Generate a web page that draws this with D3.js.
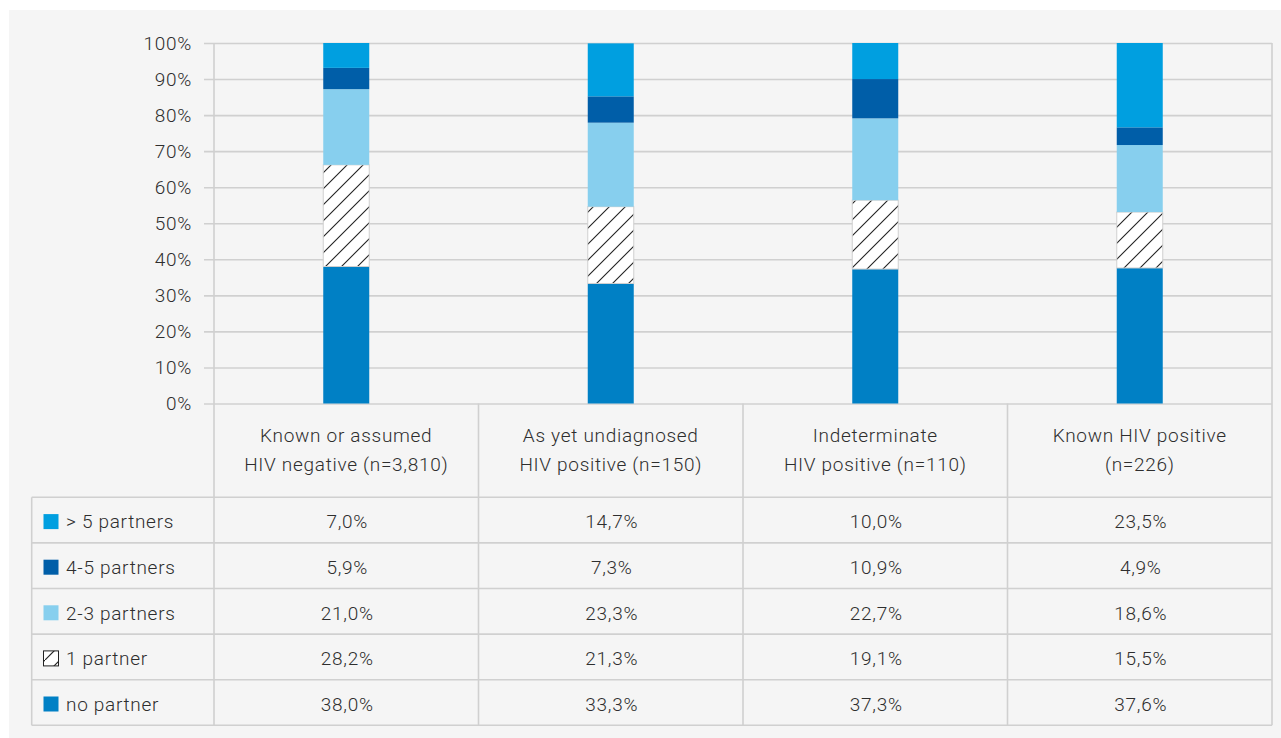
<!DOCTYPE html>
<html>
<head>
<meta charset="utf-8">
<script src="https://cdn.jsdelivr.net/npm/d3@7"></script>
<style>
html,body{margin:0;padding:0;background:#fff;}
svg{display:block;}
text{font-family:Roboto, "Open Sans", sans-serif;font-weight:300;fill:#2e2e2e;letter-spacing:0.7px;}
</style>
</head>
<body>
<svg id="chart" width="1281" height="738"></svg>
<script>
const categories = [
  ["Known or assumed", "HIV negative (n=3,810)"],
  ["As yet undiagnosed", "HIV positive (n=150)"],
  ["Indeterminate", "HIV positive (n=110)"],
  ["Known HIV positive", "(n=226)"]
];
const seriesNames = ["no partner", "1 partner", "2-3 partners", "4-5 partners", "> 5 partners"];
const noPartner   = [38.0, 33.3, 37.3, 37.6];
const onePartner  = [28.2, 21.3, 19.1, 15.5];
const twoThree    = [21.0, 23.3, 22.7, 18.6];
const fourFive    = [5.9, 7.3, 10.9, 4.9];
const moreFive    = [7.0, 14.7, 10.0, 23.5];
const yTicks = [0, 10, 20, 30, 40, 50, 60, 70, 80, 90, 100];

const seriesValues = [noPartner, onePartner, twoThree, fourFive, moreFive];
const colors = ["#0080c5", "hatch", "#87cfee", "#005ea8", "#009fe0"];

(function () {
const svg = d3.select("#chart");
const W = 1281, H = 738;
const FS = 19;

svg.append("rect").attr("x", 9).attr("y", 10).attr("width", W - 9).attr("height", H - 10).attr("fill", "#f5f5f5");

const defs = svg.append("defs");
const pat = defs.append("pattern").attr("id", "hatch").attr("patternUnits", "userSpaceOnUse")
  .attr("width", 16).attr("height", 16);
pat.append("rect").attr("width", 16).attr("height", 16).attr("fill", "#fff");
pat.append("path").attr("d", "M-4,4 L4,-4 M0,16 L16,0 M12,20 L20,12").attr("stroke", "#222").attr("stroke-width", 1.1);
const legPat = defs.append("pattern").attr("id", "hatchLeg").attr("patternUnits", "userSpaceOnUse")
  .attr("width", 15).attr("height", 15);
legPat.append("rect").attr("width", 15).attr("height", 15).attr("fill", "#fff");
legPat.append("path").attr("d", "M0,15 L15,0").attr("stroke", "#222").attr("stroke-width", 1.2);

const pLeft = 214, pRight = 1272, pTop = 43, pBottom = 403.5;
const tableTop = 497.3, rowH = 45.6, legendLeft = 31.7;

const x = d3.scaleBand().domain(d3.range(categories.length)).range([pLeft, pRight]).paddingInner(0).paddingOuter(0);
const y = d3.scaleLinear().domain([0, 100]).range([pBottom, pTop]).clamp(true);

const gridColor = "#d0d0d0";

const yAxis = d3.axisLeft(y).tickValues(yTicks).tickSize(-(pRight - pLeft)).tickSizeOuter(0).tickPadding(22)
  .tickFormat(d => d + "%");
const gy = svg.append("g").attr("transform", `translate(${pLeft},0)`).call(yAxis);
gy.select(".domain").remove();
gy.selectAll(".tick line").attr("stroke", gridColor).attr("stroke-width", 1.6).attr("x1", -10);
gy.selectAll(".tick text").attr("font-size", FS).attr("fill", "#2e2e2e").attr("dy", "0.34em")
  .style("font-family", "Roboto, sans-serif").style("font-weight", 300);

const table = categories.map((c, i) => {
  const o = {i};
  seriesNames.forEach((s, k) => o[s] = seriesValues[k][i]);
  return o;
});
const stack = d3.stack().keys(seriesNames)(table);
const barW = 46;
stack.forEach((layer, k) => {
  svg.append("g").selectAll("rect").data(layer).join("rect")
    .attr("x", d => x(d.data.i) + x.bandwidth() / 2 - barW / 2)
    .attr("width", barW)
    .attr("y", d => y(d[1]))
    .attr("height", d => y(d[0]) - y(d[1]))
    .attr("fill", colors[k] === "hatch" ? "url(#hatch)" : colors[k])
    .attr("stroke", colors[k] === "hatch" ? "#cfcfcf" : "none")
    .attr("stroke-width", 1);
});

const lines = svg.append("g").attr("stroke", gridColor).attr("stroke-width", 1.6).attr("fill", "none");
const bounds = d3.range(categories.length + 1).map(i => i < categories.length ? x(i) : pRight);
bounds.forEach((bx, i) => {
  lines.append("line").attr("x1", bx).attr("x2", bx)
    .attr("y1", (i === 0 || i === bounds.length - 1) ? pTop : pBottom)
    .attr("y2", tableTop + rowH * seriesNames.length);
});
lines.append("line").attr("x1", legendLeft).attr("x2", legendLeft).attr("y1", tableTop).attr("y2", tableTop + rowH * seriesNames.length);
d3.range(seriesNames.length + 1).forEach(r => {
  lines.append("line").attr("x1", legendLeft).attr("x2", pRight)
    .attr("y1", tableTop + r * rowH).attr("y2", tableTop + r * rowH);
});

categories.forEach((c, i) => {
  const cx = x(i) + x.bandwidth() / 2;
  c.forEach((line, j) => {
    svg.append("text").attr("x", cx).attr("y", 435 + j * 29).attr("text-anchor", "middle")
      .attr("dy", "0.36em").attr("font-size", FS).text(line);
  });
});

const rowOrder = seriesNames.map((s, k) => k).reverse();
const fmt = v => v.toFixed(1).replace(".", ",") + "%";
rowOrder.forEach((k, r) => {
  const cy = tableTop + r * rowH + rowH / 2 + 1.5;
  svg.append("rect").attr("x", 43.5).attr("y", cy - 7.5).attr("width", 15).attr("height", 15)
    .attr("fill", colors[k] === "hatch" ? "url(#hatchLeg)" : colors[k])
    .attr("stroke", colors[k] === "hatch" ? "#222" : "none").attr("stroke-width", 1);
  svg.append("text").attr("x", 66).attr("y", cy).attr("dy", "0.36em")
    .attr("font-size", FS).text(seriesNames[k]);
  categories.forEach((c, i) => {
    svg.append("text").attr("x", x(i) + x.bandwidth() / 2 + 1).attr("y", cy).attr("text-anchor", "middle")
      .attr("dy", "0.36em").attr("font-size", FS).text(fmt(seriesValues[k][i]));
  });
});
})();
</script>
</body>
</html>
